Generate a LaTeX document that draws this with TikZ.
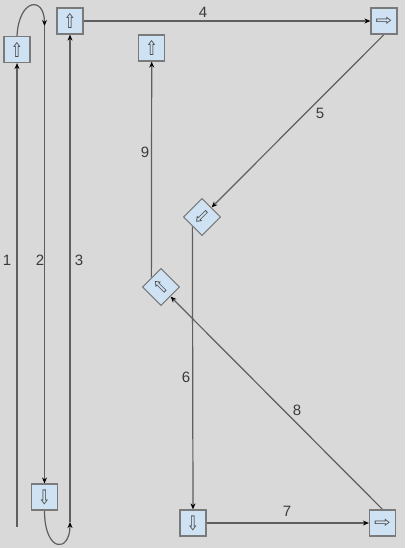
\documentclass[tikz,border=0pt]{standalone}
\usepackage{fontspec}
\usepackage{graphicx}
\setmainfont{Liberation Sans}
\newfontfamily\symfont{DejaVu Sans}
\usetikzlibrary{arrows.meta}
\pgfdeclarelayer{bg}
\pgfdeclarelayer{edges}
\pgfsetlayers{bg,edges,main}
\definecolor{bgc}{HTML}{D9D9D9}
\definecolor{boxfill}{HTML}{CFE2F3}
\definecolor{boxdraw}{HTML}{7A7A7A}
\definecolor{linec}{HTML}{5E5E5E}
\definecolor{labc}{HTML}{3A3A3A}
\newcommand{\vglyph}[1]{\scalebox{0.75}[1]{#1}}
\newcommand{\hglyph}[1]{\scalebox{1}[0.75]{#1}}
\tikzset{
  x=1pt, y=-1pt,
  box/.style={draw=boxdraw, fill=boxfill, line width=1.2pt, minimum size=26pt,
    inner sep=0pt, font=\symfont\fontsize{20}{20}\selectfont, text=black!70},
  conn/.style={draw=linec, line width=1.2pt, -{Stealth[length=6pt,width=5pt,black]}},
  lab/.style={font=\fontsize{15}{15}\selectfont, text=labc, inner sep=0pt}
}
\begin{document}
\begin{tikzpicture}
\begin{pgfonlayer}{bg}
\fill[bgc] (0,0) rectangle (405,548);
\end{pgfonlayer}
\useasboundingbox (0,0) rectangle (405,548);

\node[box] (A) at (17,49.5) {\vglyph{⇧}};
\node[box] (B) at (70,21) {\vglyph{⇧}};
\node[box] (C) at (384,21) {\hglyph{⇨}};
\node[box] (D) at (151.7,48) {\vglyph{⇧}};
\node[box, rotate=-45] (E) at (202,217) {\vglyph{⇩}};
\node[box, rotate=45] (F) at (161,287) {\vglyph{⇧}};
\node[box] (G) at (44.5,497) {\vglyph{⇩}};
\node[box] (H) at (193,523) {\vglyph{⇩}};
\node[box] (I) at (382.5,523) {\hglyph{⇨}};

\coordinate (s1) at (17,527);
\coordinate (m2) at (44.5,26);
\coordinate (m3) at (70,522);

\begin{pgfonlayer}{edges}
\draw[conn] (s1) -- (A.south);
\draw[conn] (A.north) .. controls (19,-2) and (44.5,-4) .. (m2);
\draw[conn] (m2) -- (G.north);
\draw[conn] (G.south) .. controls (44.5,553) and (70,553) .. (m3);
\draw[conn] (m3) -- (B.south);
\draw[conn] (B.east) -- (C.west);
\draw[conn] (C.south) -- (E.north);
\draw[conn] (E.south) -- (H.north);
\draw[conn] (H.east) -- (I.west);
\draw[conn] (I.north) -- (F.south);
\draw[conn] (F.north) -- (D.south);
\end{pgfonlayer}

\node[lab] at (7,260) {1};
\node[lab] at (40,260) {2};
\node[lab] at (79,260) {3};
\node[lab] at (203,12) {4};
\node[lab] at (320,113) {5};
\node[lab] at (186,377) {6};
\node[lab] at (287,511) {7};
\node[lab] at (297,410) {8};
\node[lab] at (145,152) {9};
\end{tikzpicture}
\end{document}
